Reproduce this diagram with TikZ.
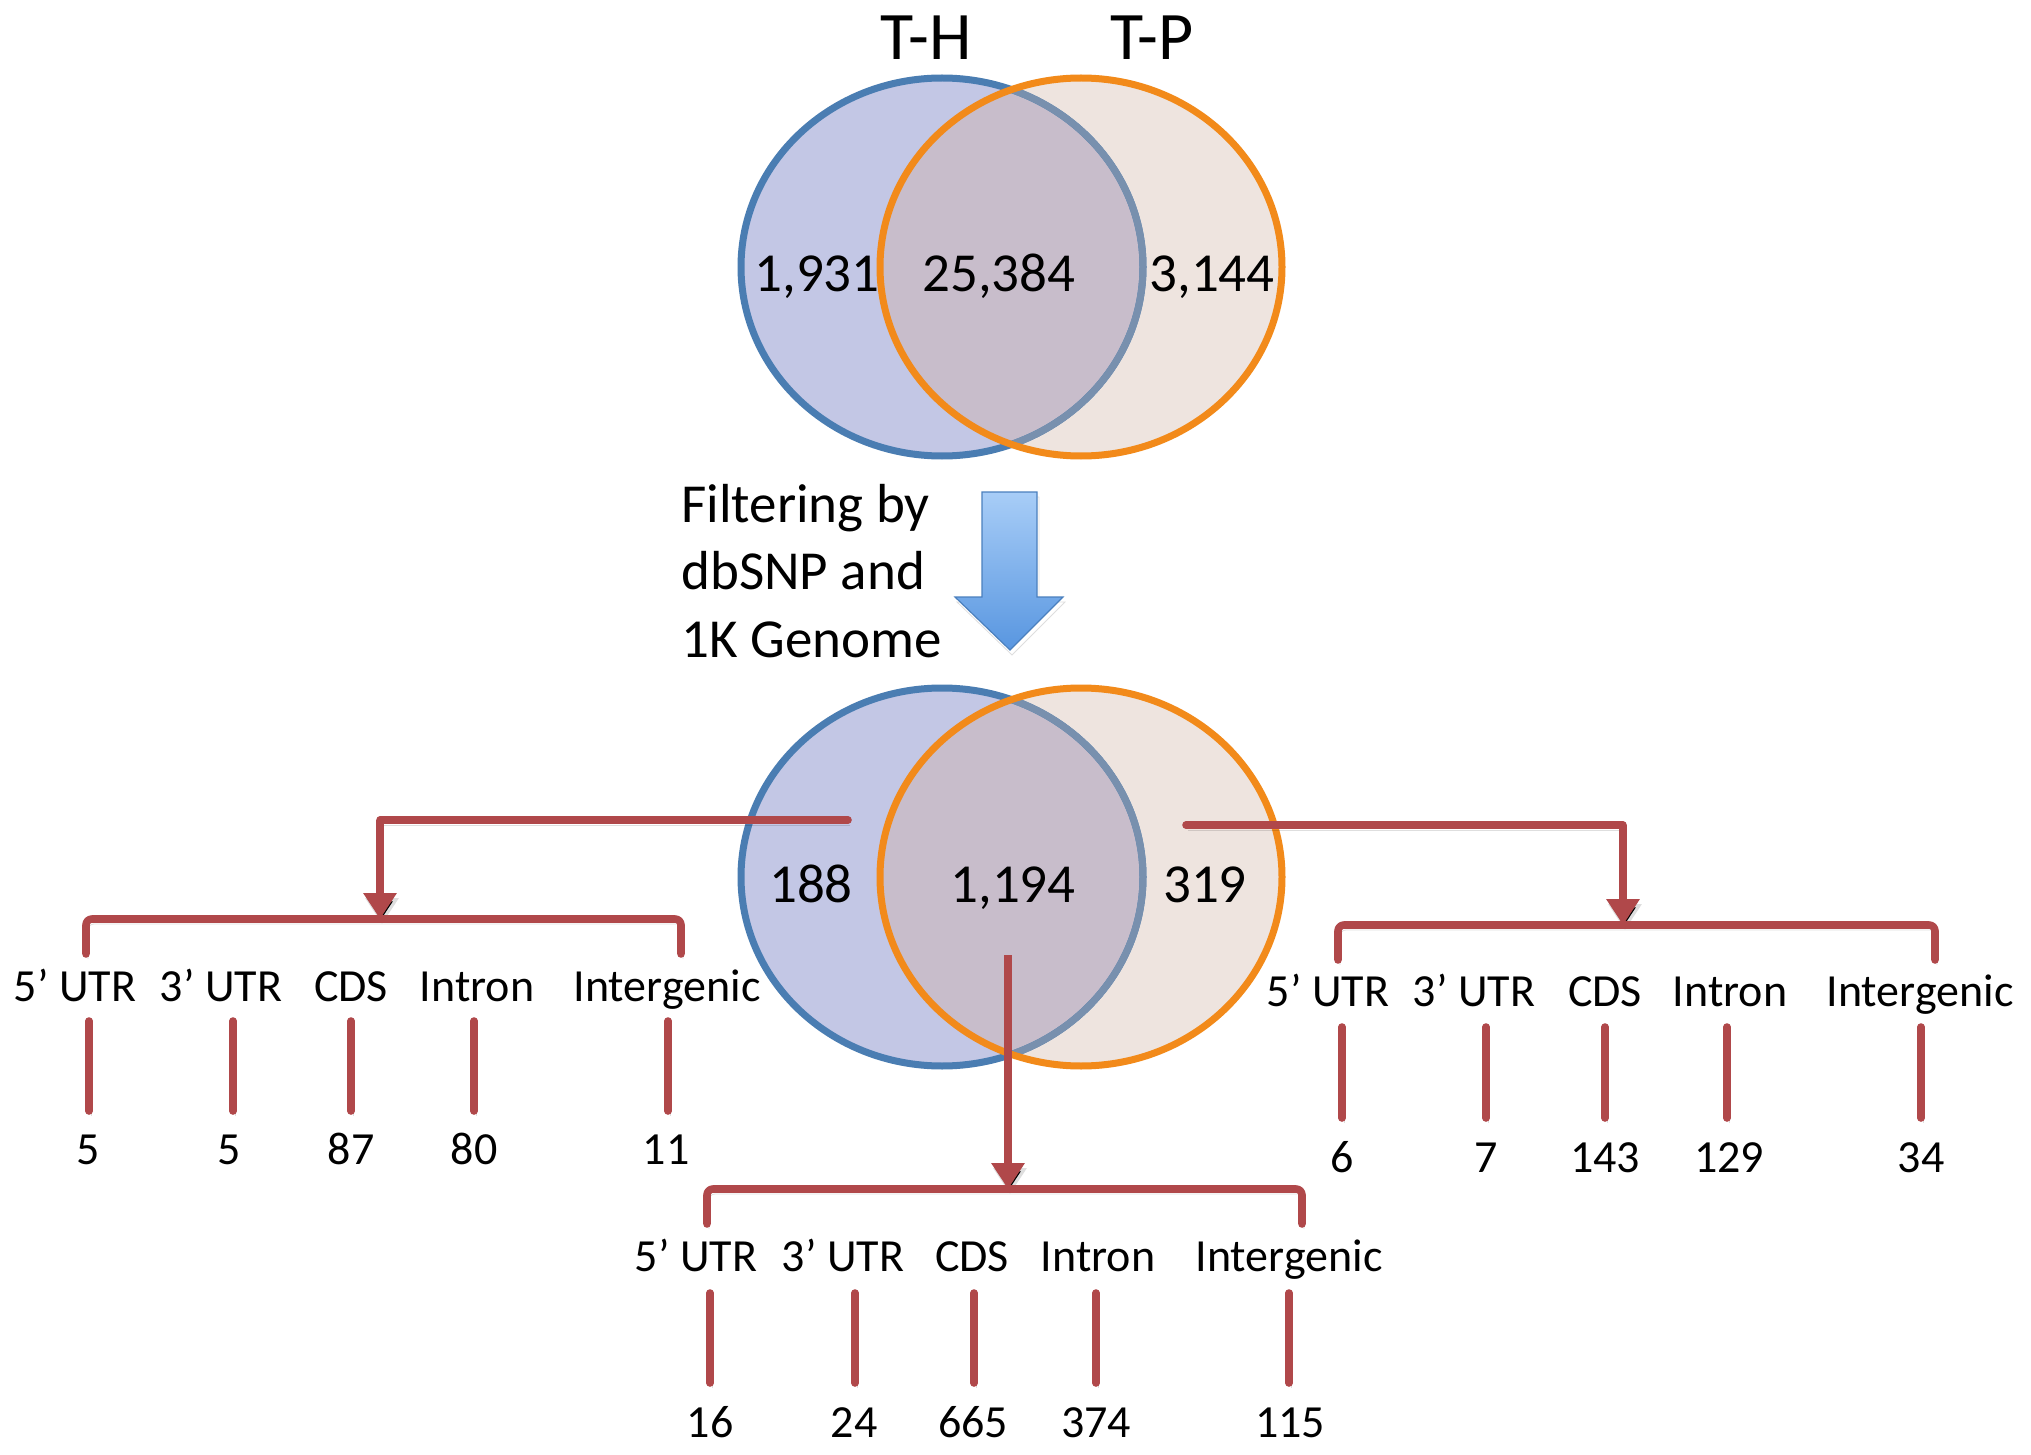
\documentclass[tikz,border=0pt]{standalone}
\usepackage{fontspec}
\setmainfont{Carlito}
\usetikzlibrary{arrows.meta}
\definecolor{bluefill}{HTML}{C3C7E5}
\definecolor{orangefill}{HTML}{EEE4DF}
\definecolor{interfill}{HTML}{C8BDCB}
\definecolor{blueline}{HTML}{4A7DB2}
\definecolor{bluefaded}{HTML}{7890AE}
\definecolor{orangeline}{HTML}{F28A1A}
\definecolor{redline}{HTML}{B0484A}
\definecolor{arrtop}{HTML}{A8CDF7}
\definecolor{arrbot}{HTML}{5896E0}
\begin{document}
\begin{tikzpicture}[x=0.5pt,y=-0.5pt,
  vline/.style={line width=3.5pt},
  shadowed/.style={preaction={draw=black, draw opacity=0.13, transform canvas={shift={(1pt,-2.5pt)}}}},
  redl/.style={shadowed, draw=redline, line width=3.8pt, line join=round, line cap=round, rounded corners=3pt},
  redarrow/.style={shadowed, draw=redline, line width=3.8pt, -{Triangle[width=16pt,length=13pt]}},
  lbl/.style={font=\fontsize{23}{27}\selectfont, anchor=base, inner sep=0pt},
  vnum/.style={font=\fontsize{27.5}{33}\selectfont, anchor=base, inner sep=0pt},
  ttl/.style={font=\fontsize{34}{40}\selectfont, anchor=base, inner sep=0pt},
  ftxt/.style={font=\fontsize{27.5}{33}\selectfont, anchor=base west, inner sep=0pt}]
\path[use as bounding box, fill=white] (0,0) rectangle (2031,1455);

% Venn diagrams
\foreach \yc/\tag in {267/t, 877/b}{
  \fill[bluefill] (942,\yc) ellipse [x radius=201, y radius=189];
  \fill[orangefill] (1081,\yc) ellipse [x radius=201, y radius=189];
  \begin{scope}
    \clip (942,\yc) ellipse [x radius=201, y radius=189];
    \fill[interfill] (1081,\yc) ellipse [x radius=201, y radius=189];
  \end{scope}
  \draw[vline, blueline] (942,\yc) ellipse [x radius=201, y radius=189];
  \begin{scope}
    \clip (1081,\yc) ellipse [x radius=201, y radius=189];
    \draw[vline, bluefaded] (942,\yc) ellipse [x radius=201, y radius=189];
  \end{scope}
  \draw[vline, orangeline] (1081,\yc) ellipse [x radius=201, y radius=189];
}

% titles
\node[ttl] (th) at (926,60) {T-H};
\node[ttl] (tp) at (1152,60) {T-P};

% top numbers
\node[vnum] (n1) at (817,292) {1,931};
\node[vnum] (n2) at (999,292) {25,384};
\node[vnum] (n3) at (1212,292) {3,144};

% bottom numbers
\node[vnum] (m1) at (811,902) {188};
\node[vnum] (m2) at (1013,902) {1,194};
\node[vnum] (m3) at (1205,902) {319};

% filtering text
\node[ftxt] (f1) at (681,522) {Filtering by};
\node[ftxt] (f2) at (681,589) {dbSNP and};
\node[ftxt] (f3) at (681,657) {1K Genome};

% blue block arrow
\path[shadowed, draw=arrbot!85!black, line width=0.6pt, top color=arrtop, bottom color=arrbot]
  (982,492) -- (1037,492) -- (1037,597) -- (1063,597) -- (1010,650) -- (955,597) -- (982,597) -- cycle;

% ---------- left group ----------
\coordinate (ls) at (848,820);
\coordinate (lc) at (380,820);
\coordinate (lb) at (380,919);
\draw[redl] (ls) -- (lc);
\draw[redarrow] (lc) -- (lb);
\coordinate (lbl1) at (86,954);
\coordinate (lbl2) at (86,919);
\coordinate (lbr2) at (681,919);
\coordinate (lbr1) at (681,954);
\draw[redl] (lbl1) -- (lbl2) -- (lbr2) -- (lbr1);
\foreach \lx/\tx/\vx/\nx/\num [count=\i] in {75/5’ UTR/89/88/5, 221/3’ UTR/233/229/5, 351/CDS/351/351/87, 477/Intron/474/474/80, 667/Intergenic/668/666/11}{
  \node[lbl] (ll\i) at (\lx,1001) {\tx};
  \coordinate (lt\i) at (\vx,1021);
  \coordinate (lu\i) at (\vx,1111);
  \draw[redl] (lt\i) -- (lu\i);
  \node[lbl] (ln\i) at (\nx,1164) {\num};
}

% ---------- right group ----------
\coordinate (rs) at (1186,825);
\coordinate (rc) at (1623,825);
\coordinate (rb) at (1623,925);
\draw[redl] (rs) -- (rc);
\draw[redarrow] (rc) -- (rb);
\coordinate (rbl1) at (1338,960);
\coordinate (rbl2) at (1338,925);
\coordinate (rbr2) at (1935,925);
\coordinate (rbr1) at (1935,960);
\draw[redl] (rbl1) -- (rbl2) -- (rbr2) -- (rbr1);
\foreach \lx/\tx/\vx/\nx/\num [count=\i] in {1328/5’ UTR/1342/1342/6, 1474/3’ UTR/1486/1486/7, 1605/CDS/1605/1605/143, 1730/Intron/1727/1729/129, 1920/Intergenic/1921/1921/34}{
  \node[lbl] (rl\i) at (\lx,1006) {\tx};
  \coordinate (rt\i) at (\vx,1027);
  \coordinate (ru\i) at (\vx,1118);
  \draw[redl] (rt\i) -- (ru\i);
  \node[lbl] (rn\i) at (\nx,1172) {\num};
}

% ---------- middle group ----------
\coordinate (ms) at (1008,955);
\coordinate (mb) at (1008,1189);
\draw[redarrow] (ms) -- (mb);
\coordinate (mbl1) at (707,1224);
\coordinate (mbl2) at (707,1189);
\coordinate (mbr2) at (1302,1189);
\coordinate (mbr1) at (1302,1224);
\draw[redl] (mbl1) -- (mbl2) -- (mbr2) -- (mbr1);
\foreach \lx/\tx/\vx/\nx/\num [count=\i] in {696/5’ UTR/710/710/16, 843/3’ UTR/855/854/24, 972/CDS/974/973/665, 1098/Intron/1096/1096/374, 1289/Intergenic/1289/1290/115}{
  \node[lbl] (ml\i) at (\lx,1271) {\tx};
  \coordinate (mt\i) at (\vx,1293);
  \coordinate (mu\i) at (\vx,1383);
  \draw[redl] (mt\i) -- (mu\i);
  \node[lbl] (mn\i) at (\nx,1437) {\num};
}
\end{tikzpicture}
\end{document}
